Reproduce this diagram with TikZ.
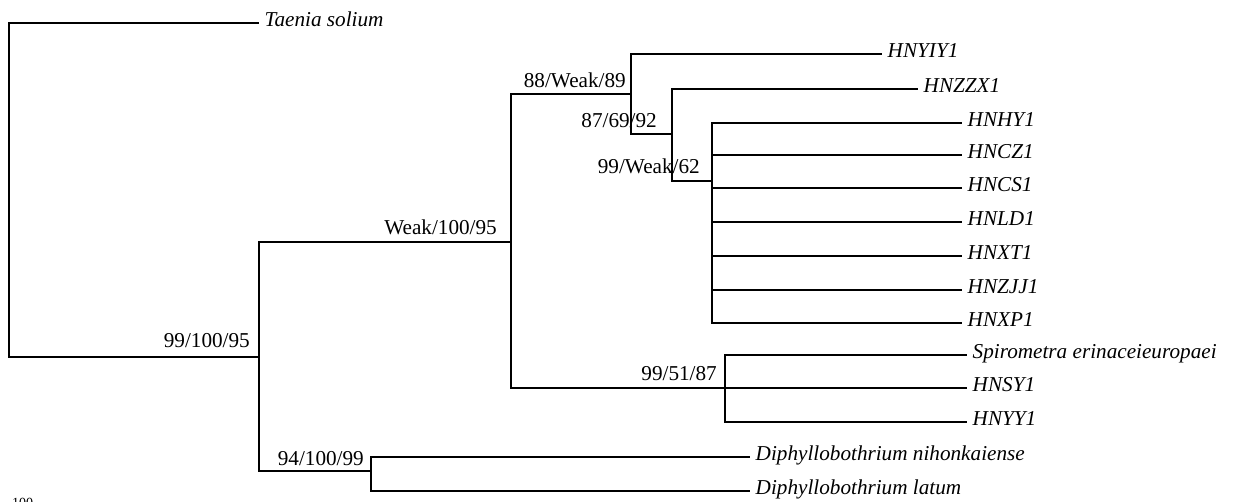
\documentclass[tikz,border=0pt]{standalone}
\usepackage{fontspec}
\setmainfont{Liberation Serif}
\begin{document}
\begin{tikzpicture}[x=1pt,y=-1pt,
  branch/.style={line width=1.9pt, line cap=rect},
  leaf/.style={anchor=west, inner xsep=6.5pt, inner ysep=0pt, font=\fontsize{21.2}{24}\selectfont\itshape, text height=0.76em, text depth=0.1em},
  support/.style={anchor=base east, inner sep=0pt, font=\fontsize{21.2}{24}\selectfont}]
\clip (0,0) rectangle (1239,502);
% internal nodes
\coordinate (root) at (9,357);
\coordinate (A) at (259,357);
\coordinate (B) at (511,242);
\coordinate (C) at (631,94);
\coordinate (D) at (672,134);
\coordinate (E) at (712,181);
\coordinate (F) at (725,388);
\coordinate (G) at (371,471);
% leaves
\node[leaf] (taenia) at (258,23) {Taenia solium};
\node[leaf] (hnyiy) at (881,54) {HNYIY1};
\node[leaf] (hnzzx) at (917,89) {HNZZX1};
\node[leaf] (hnhy) at (961,123) {HNHY1};
\node[leaf] (hncz) at (961,155) {HNCZ1};
\node[leaf] (hncs) at (961,188) {HNCS1};
\node[leaf] (hnld) at (961,222) {HNLD1};
\node[leaf] (hnxt) at (961,256) {HNXT1};
\node[leaf] (hnzjj) at (961,290) {HNZJJ1};
\node[leaf] (hnxp) at (961,323) {HNXP1};
\node[leaf] (spiro) at (966,355) {Spirometra erinaceieuropaei};
\node[leaf] (hnsy) at (966,388) {HNSY1};
\node[leaf] (hnyy) at (966,422) {HNYY1};
\node[leaf] (dnih) at (749,457) {Diphyllobothrium nihonkaiense};
\node[leaf] (dlat) at (749,491) {Diphyllobothrium latum};
% branches
\draw[branch] (taenia.west) -| (root) -- (A);
\draw[branch] (B) -| (A |- G) -- (G);
\draw[branch] (C) -| (B |- F) -- (F);
\draw[branch] (hnyiy.west) -| (C |- D) -- (D);
\draw[branch] (hnzzx.west) -| (D |- E) -- (E);
\draw[branch] (hnhy.west) -| (E |- hnxp) -- (hnxp.west);
\foreach \n in {hncz,hncs,hnld,hnxt,hnzjj} \draw[branch] (E |- \n) -- (\n.west);
\draw[branch] (spiro.west) -| (F |- hnyy) -- (hnyy.west);
\draw[branch] (F) -- (hnsy.west);
\draw[branch] (dnih.west) -| (G |- dlat) -- (dlat.west);
% support values
\node[support] (sA) at (250,348) {99/100/95};
\node[support] (sB) at (497,235) {Weak/100/95};
\node[support] (sC) at (626,88) {88/Weak/89};
\node[support] (sD) at (657,128) {87/69/92};
\node[support] (sE) at (700,174) {99/Weak/62};
\node[support] (sF) at (717,381) {99/51/87};
\node[support] (sG) at (364,465) {94/100/99};
% scale label
\node[anchor=base west, inner sep=0pt, font=\fontsize{14}{16}\selectfont] (scale) at (12,507) {100};
\end{tikzpicture}
\end{document}
